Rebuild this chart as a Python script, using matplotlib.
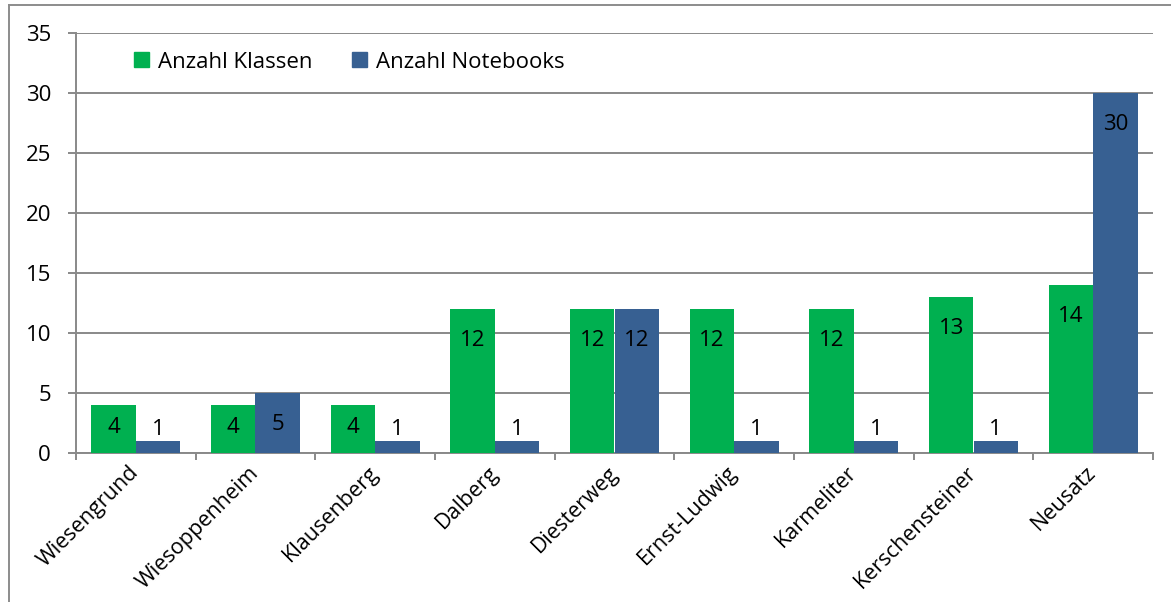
import matplotlib
matplotlib.use("Agg")
import matplotlib.pyplot as plt
from matplotlib.lines import Line2D
from matplotlib.patches import Patch
import numpy as np

schools = ["Wiesengrund", "Wiesoppenheim", "Klausenberg", "Dalberg", "Diesterweg",
           "Ernst-Ludwig", "Karmeliter", "Kerschensteiner", "Neusatz"]
klassen = [4, 4, 4, 12, 12, 12, 12, 13, 14]
notebooks = [1, 5, 1, 1, 12, 1, 1, 1, 30]
series_names = ["Anzahl Klassen", "Anzahl Notebooks"]
yticks = [0, 5, 10, 15, 20, 25, 30, 35]

GREEN = "#00B050"
BLUE = "#376092"
GRID = "#898989"
FS = 16

plt.rcParams["font.family"] = ["Open Sans", "DejaVu Sans"]

fig = plt.figure(figsize=(11.71, 6.02), dpi=100)
ax = fig.add_axes([76 / 1171, 1 - 453 / 602, (1153 - 76) / 1171, (453 - 33) / 602])

x = np.arange(len(schools))
w = 0.372
ax.bar(x - w / 2, klassen, w, color=GREEN, zorder=3)
ax.bar(x + w / 2, notebooks, w, color=BLUE, zorder=3)

ax.set_xlim(-0.5, len(schools) - 0.5)
ax.set_ylim(0, 35)

# value labels: inside the top of the bar, centred for short bars, above tiny ones
def label(xpos, v):
    if v >= 5:
        off = -27
    elif v >= 3:
        off = -20
    else:
        off = 4.3
    ax.annotate(str(v), (xpos, v), xytext=(0, off), textcoords="offset points",
                ha="center", va="baseline", fontsize=FS, color="black", zorder=4)

for i in range(len(schools)):
    label(x[i] - w / 2, klassen[i])
    label(x[i] + w / 2, notebooks[i])

# horizontal gridlines
ax.set_yticks(yticks)
ax.yaxis.grid(True, color=GRID, linewidth=1.4, zorder=0)
ax.tick_params(axis="y", length=6, width=1.4, color=GRID, pad=12, labelsize=FS)

# category boundaries as major ticks, names centred as minor ticks
ax.set_xticks(np.arange(-0.5, len(schools), 1.0))
ax.set_xticklabels([])
ax.tick_params(axis="x", which="major", length=5, width=1.4, color=GRID)
ax.set_xticks(x, minor=True)
ax.set_xticklabels(schools, minor=True, rotation=45, ha="right", va="center",
                   rotation_mode="anchor", fontsize=15.5)
ax.tick_params(axis="x", which="minor", length=0, pad=12)

for s in ["top", "right"]:
    ax.spines[s].set_visible(False)
for s in ["left", "bottom"]:
    ax.spines[s].set_color(GRID)
    ax.spines[s].set_linewidth(1.4)

handles = [Patch(color=GREEN), Patch(color=BLUE)]
leg = ax.legend(handles, series_names, ncol=2, frameon=False, fontsize=FS,
                loc="center left", bbox_to_anchor=(134 / 1171, 1 - 62 / 602),
                bbox_transform=fig.transFigure, handlelength=0.66, handleheight=0.66,
                handletextpad=0.4, columnspacing=1.8, borderaxespad=0, borderpad=0)

# outer frame around the chart area
fig.add_artist(Line2D([8.5 / 1171, 1.0], [1 - 4.5 / 602, 1 - 4.5 / 602],
                      transform=fig.transFigure, color="#8c8c8c", linewidth=1.4))
fig.add_artist(Line2D([8.5 / 1171, 8.5 / 1171], [0, 1 - 4.5 / 602],
                      transform=fig.transFigure, color="#8c8c8c", linewidth=1.4))

fig.savefig("out.png", dpi=100)
